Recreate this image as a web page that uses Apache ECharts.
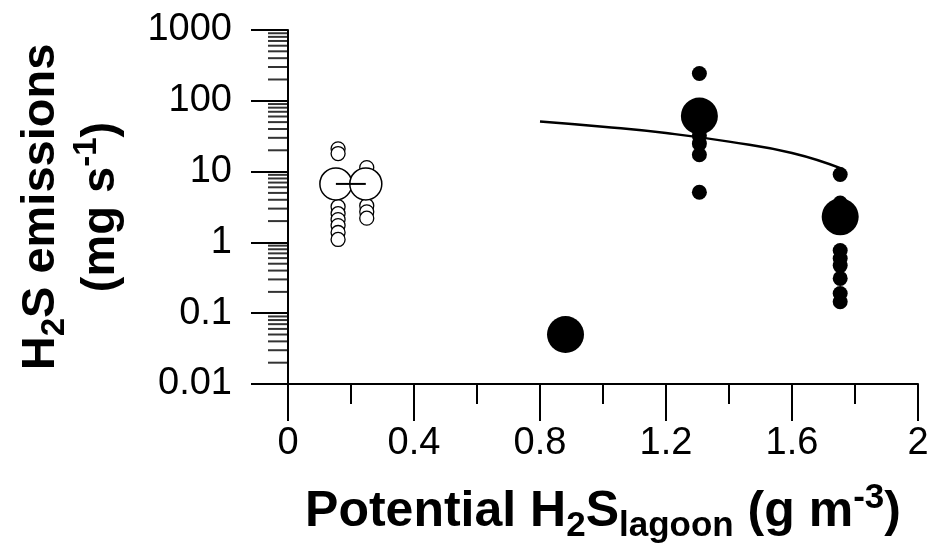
<!DOCTYPE html>
<html>
<head>
<meta charset="utf-8">
<script src="https://cdn.jsdelivr.net/npm/echarts@6.0.0/dist/echarts.min.js"></script>
<style>
  html, body { margin: 0; padding: 0; background: #fff; }
  #chart { width: 930px; height: 545px; }
</style>
</head>
<body>
<div id="chart"></div>
<script>
"use strict";

/* Values: x = potential H2S in the lagoon (g m-3),
   y = H2S emission (mg s-1), log scale. */

// open circles: single measurements and the two means
const openPoints = [
  [0.159, 21], [0.159, 18], [0.159, 3.2], [0.159, 2.55], [0.159, 2.1],
  [0.159, 1.73], [0.159, 1.38], [0.159, 1.1],
  [0.25, 11.4], [0.25, 3.3], [0.25, 2.7], [0.25, 2.2]
];
const openMeans = [[0.152, 6.7], [0.247, 6.7]];

// filled circles: single measurements and the means
const solidPoints = [
  [1.306, 243], [1.306, 32], [1.306, 24.8], [1.306, 17.3], [1.306, 5.1],
  [1.753, 9.1], [1.753, 3.6], [1.753, 0.77], [1.753, 0.59], [1.753, 0.47],
  [1.753, 0.31], [1.753, 0.19], [1.753, 0.145]
];
const solidMeans = [[0.881, 0.05], [1.306, 61], [1.753, 2.3]];

// fitted curve, points
const fitLine = [[0.8, 51], [1.0, 43], [1.2, 35], [1.4, 26.5], [1.6, 18.3], [1.76, 10.9]];

const yTickLabels = ["0.01", "0.1", "1", "10", "100", "1000"];
const yMinorTicks = [
  0.02, 0.03, 0.04, 0.05, 0.06, 0.07, 0.08, 0.09,
  0.2, 0.3, 0.4, 0.5, 0.6, 0.7, 0.8, 0.9,
  2, 3, 4, 5, 6, 7, 8, 9,
  20, 30, 40, 50, 60, 70, 80, 90,
  200, 300, 400, 500, 600, 700, 800, 900
];

const FONT = "Liberation Sans, Arial, sans-serif";
const ink = "#000";

// main text / subscript / superscript styles for the axis titles
const titleRich = (size, lh) => ({
  m: { fontSize: size, fontWeight: "bold", fontFamily: FONT, color: ink, lineHeight: lh },
  s: { fontSize: Math.round(size * 0.7), fontWeight: "bold", fontFamily: FONT, color: ink,
       lineHeight: lh, padding: [28, 0, 0, 0] },
  p: { fontSize: Math.round(size * 0.7), fontWeight: "bold", fontFamily: FONT, color: ink,
       lineHeight: lh, padding: [0, 0, 28, 0] },
});

const axisLine = { onZero: false, lineStyle: { color: ink, width: 2 } };
const tickStyle = { color: ink, width: 2 };

const chart = echarts.init(document.getElementById("chart"), null, { renderer: "canvas" });
chart.setOption({
  animation: false,
  backgroundColor: "#fff",
  grid: { left: 288, right: 12, top: 30, bottom: 161, containLabel: false, outerBoundsMode: "none" },
  xAxis: {
    type: "value", min: 0, max: 2, interval: 0.4,
    axisLine,
    axisTick: { length: 37, lineStyle: tickStyle },
    minorTick: { show: true, splitNumber: 2, length: 20, lineStyle: tickStyle },
    splitLine: { show: false },
    axisLabel: { color: ink, fontSize: 38, fontFamily: FONT, margin: 41 },
    name: "{m|Potential H}{s|2}{m|S}{s|lagoon}{m| (g m}{p|-3}{m|)}",
    nameLocation: "middle", nameGap: 100,
    nameTextStyle: { rich: titleRich(50, 56) },
  },
  yAxis: {
    type: "log", logBase: 10, min: 0.01, max: 1000,
    axisLine,
    axisTick: { length: 37, lineStyle: tickStyle },
    minorTick: { show: false },
    splitLine: { show: false },
    axisLabel: {
      color: ink, fontSize: 38, fontFamily: FONT, margin: 56,
      formatter: (v) => yTickLabels[Math.round(Math.log10(v)) + 2],
    },
    name: "{m|H}{s|2}{m|S emissions}\n{m|(mg s}{p|-1}{m|)}",
    nameLocation: "middle", nameRotate: 90, nameGap: 157,
    nameTextStyle: { align: "center", rich: titleRich(47, 60) },
  },
  series: [
    { // minor ticks of the log axis at 2..9 of every decade
      type: "scatter", data: yMinorTicks.map((v) => [0, v]),
      symbol: "rect", symbolSize: [20, 2], symbolOffset: [-10, 0],
      itemStyle: { color: ink }, clip: false, silent: true, z: 1,
    },
    {
      type: "scatter", data: openPoints, symbolSize: 14,
      itemStyle: { color: "#fff", borderColor: ink, borderWidth: 1.3, opacity: 1 }, z: 2,
    },
    {
      type: "scatter", data: openMeans, symbolSize: 32,
      itemStyle: { color: "#fff", borderColor: ink, borderWidth: 1.5, opacity: 1 }, z: 3,
    },
    {
      type: "line", data: openMeans, symbol: "none",
      lineStyle: { color: ink, width: 2 }, z: 4,
    },
    {
      type: "line", data: fitLine, symbol: "none", smooth: true,
      lineStyle: { color: ink, width: 2.5 }, z: 4,
    },
    {
      type: "scatter", data: solidPoints, symbolSize: 15,
      itemStyle: { color: ink, opacity: 1 }, z: 5,
    },
    {
      type: "scatter", data: solidMeans, symbolSize: 37,
      itemStyle: { color: ink, opacity: 1 }, z: 5,
    },
  ],
});
</script>
</body>
</html>
